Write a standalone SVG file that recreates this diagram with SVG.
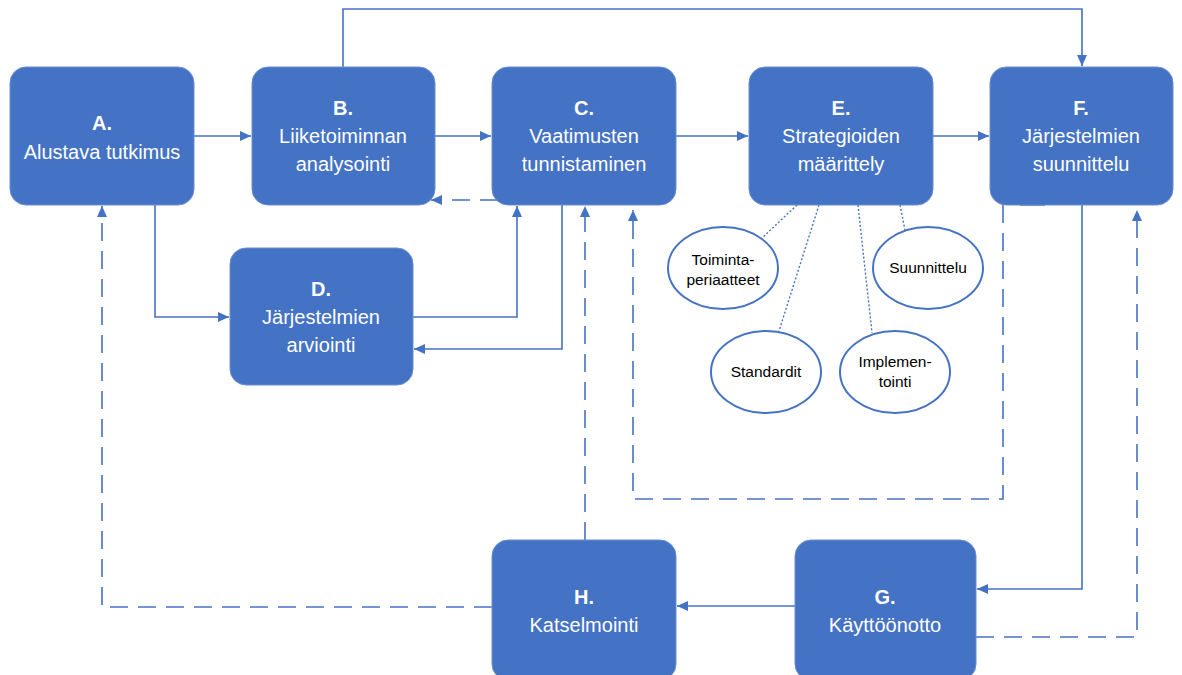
<svg xmlns="http://www.w3.org/2000/svg" width="1182" height="675" viewBox="0 0 1182 675">
<style>
.box{fill:#4472C4;stroke:#6a8fd0;stroke-width:1}
.t{font-family:"Liberation Sans",Arial,sans-serif;font-size:20px;fill:#fff;text-anchor:middle}
.b{font-weight:bold}
.el{fill:#fff;stroke:#4472C4;stroke-width:2}
.et{font-family:"Liberation Sans",Arial,sans-serif;font-size:15.5px;fill:#000;text-anchor:middle}
.c{fill:none;stroke:#4472C4;stroke-width:1.6}
.d{stroke-dasharray:18 10}
.dot{fill:none;stroke:#4472C4;stroke-width:1.4;stroke-dasharray:2 2}
</style>
<defs>
<marker id="ah" markerUnits="userSpaceOnUse" markerWidth="12" markerHeight="10" refX="11" refY="5" orient="auto">
<path d="M0,0 L11,5 L0,10 z" fill="#4472C4"/>
</marker>
</defs>
<rect width="1182" height="675" fill="#fff"/>
<g id="connectors">
<path class="c" d="M194,136 H251" marker-end="url(#ah)"/>
<path class="c" d="M435,136 H491" marker-end="url(#ah)"/>
<path class="c" d="M676,136 H748" marker-end="url(#ah)"/>
<path class="c" d="M933,136 H989" marker-end="url(#ah)"/>
<path class="c" d="M343,67 V9 H1082 V66" marker-end="url(#ah)"/>
<path class="c d" d="M498,200 H431" marker-end="url(#ah)"/>
<path class="c" d="M155,205 V317 H229" marker-end="url(#ah)"/>
<path class="c" d="M413,317 H517 V206" marker-end="url(#ah)"/>
<path class="c" d="M562,205 V349 H414" marker-end="url(#ah)"/>
<path class="c d" d="M1003,205 V499 H633 V210" marker-end="url(#ah)"/>
<path class="c" d="M1020,205 H1045"/>
<path class="c" d="M1082,205 V589 H977" marker-end="url(#ah)"/>
<path class="c d" d="M976,637 H1137 V210" marker-end="url(#ah)"/>
<path class="c" d="M795,606 H677" marker-end="url(#ah)"/>
<path class="c d" d="M492,607 H102 V206" marker-end="url(#ah)"/>
<path class="c d" d="M585,540 V206" marker-end="url(#ah)"/>
<path class="dot" d="M797,205 L762,238"/>
<path class="dot" d="M819,205 L779,331"/>
<path class="dot" d="M858,205 L872,333"/>
<path class="dot" d="M900,205 L905,230"/>
</g>
<g id="nodeA"><rect class="box" x="10" y="67" width="184" height="138" rx="16"/>
<text class="t b" x="102" y="130">A.</text><text class="t" x="102" y="159">Alustava tutkimus</text></g>
<g id="nodeB"><rect class="box" x="252" y="67" width="183" height="138" rx="16"/>
<text class="t b" x="343" y="115">B.</text><text class="t" x="343" y="143">Liiketoiminnan</text><text class="t" x="343" y="171">analysointi</text></g>
<g id="nodeC"><rect class="box" x="492" y="67" width="184" height="138" rx="16"/>
<text class="t b" x="584" y="115">C.</text><text class="t" x="584" y="143">Vaatimusten</text><text class="t" x="584" y="171">tunnistaminen</text></g>
<g id="nodeE"><rect class="box" x="749" y="67" width="184" height="138" rx="16"/>
<text class="t b" x="841" y="115">E.</text><text class="t" x="841" y="143">Strategioiden</text><text class="t" x="841" y="171">määrittely</text></g>
<g id="nodeF"><rect class="box" x="990" y="67" width="183" height="138" rx="16"/>
<text class="t b" x="1081" y="115">F.</text><text class="t" x="1081" y="143">Järjestelmien</text><text class="t" x="1081" y="171">suunnittelu</text></g>
<g id="nodeD"><rect class="box" x="230" y="248" width="183" height="137" rx="16"/>
<text class="t b" x="321" y="296">D.</text><text class="t" x="321" y="324">Järjestelmien</text><text class="t" x="321" y="352">arviointi</text></g>
<g id="nodeH"><rect class="box" x="492" y="540" width="184" height="140" rx="16"/>
<text class="t b" x="584" y="604">H.</text><text class="t" x="584" y="632">Katselmointi</text></g>
<g id="nodeG"><rect class="box" x="795" y="540" width="181" height="140" rx="16"/>
<text class="t b" x="885" y="604">G.</text><text class="t" x="885" y="632">Käyttöönotto</text></g>
<g id="e1"><ellipse class="el" cx="723" cy="268" rx="55" ry="41"/>
<text class="et" x="723" y="265">Toiminta-</text><text class="et" x="723" y="285">periaatteet</text></g>
<g id="e2"><ellipse class="el" cx="928" cy="268" rx="55" ry="41"/>
<text class="et" x="928" y="273">Suunnittelu</text></g>
<g id="e3"><ellipse class="el" cx="766" cy="372" rx="55" ry="41"/>
<text class="et" x="766" y="377">Standardit</text></g>
<g id="e4"><ellipse class="el" cx="895" cy="372" rx="55" ry="41"/>
<text class="et" x="895" y="367">Implemen-</text><text class="et" x="895" y="387">tointi</text></g>
</svg>
